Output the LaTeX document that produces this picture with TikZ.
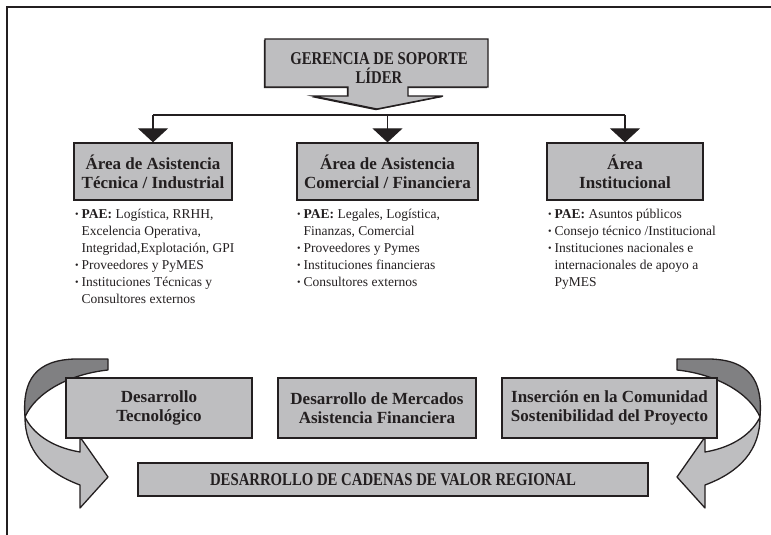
\documentclass[tikz,border=0pt]{standalone}
\usepackage{fontspec}
\setmainfont{Liberation Serif}
\newfontfamily\capsfont[FakeStretch=0.82]{Liberation Serif}
\usepackage{tikz}
\usetikzlibrary{arrows.meta,positioning,calc,shadows}

\definecolor{ink}{RGB}{35,31,32}
\definecolor{boxgray}{RGB}{190,190,192}
\definecolor{backgray}{RGB}{128,128,130}

\newcommand{\pbul}{\makebox[6.5pt][l]{\raisebox{0.8pt}{\fontsize{10}{10}\selectfont\textbullet}}}
\newcommand{\pind}{\hspace*{6.5pt}}

\begin{document}
\begin{tikzpicture}[
  x=1pt, y=-1pt,
  every node/.style={inner sep=0pt, text=ink},
  box/.style={draw=ink, line width=1.3pt, fill=boxgray, align=center,
    drop shadow={shadow xshift=-1.2pt, shadow yshift=-1.2pt, fill=ink, opacity=1}},
  areabox/.style={box, minimum height=57pt, font=\fontsize{17}{19}\selectfont\bfseries},
  ejebox/.style={box, minimum height=60pt, font=\fontsize{17}{19}\selectfont\bfseries},
  capsbox/.style={font=\capsfont\fontsize{18}{19}\selectfont\bfseries, align=center},
  list/.style={align=left, anchor=north west, font=\fontsize{13.5}{17}\selectfont},
  conn/.style={draw=ink, line width=1.2pt},
  down/.style={conn, -{Triangle[width=30pt,length=14pt]}},
  ribbon/.style={draw=ink, line width=1.3pt, line join=round}
]
\useasboundingbox (0,0) rectangle (771,535);

% --- page frame (only top and left visible) ---
\draw[ink, line width=1.2pt] (7,535) -- (7,7) -- (771,7);

% --- top box with its arrow tab ---
\path[box] (265,39) -- (488,39) -- (488,87) -- (408,87) -- (408,96) -- (443,96)
  -- (377,109) -- (313,96) -- (348,96) -- (348,87) -- (265,87) -- cycle;
\node[capsbox] (gerencia) at (379,68) {GERENCIA DE SOPORTE\\LÍDER};
\coordinate (split) at (377,115);

% --- three areas ---
\node[areabox, minimum width=158pt] (tecnica)       at (153,171.5) {Área de Asistencia\\Técnica / Industrial};
\node[areabox, minimum width=181pt] (comercial)     at (387.5,171.5) {Área de Asistencia\\Comercial / Financiera};
\node[areabox, minimum width=156pt] (institucional) at (625,171.5) {Área\\Institucional};

\draw[conn] (tecnica.north |- split) -- (institucional.north |- split);
\foreach \n in {tecnica,comercial,institucional} {
  \draw[down] (\n.north |- split) -- (\n.north);
}

% --- lists under each area ---
\node[list] (listtec) at (75,209) {\pbul\textbf{PAE:} Logística, RRHH,\\
  \pind Excelencia Operativa,\\
  \pind Integridad,Explotación, GPI\\
  \pbul Proveedores y PyMES\\
  \pbul Instituciones Técnicas y\\
  \pind Consultores externos};
\node[list] (listcom) at (297,209) {\pbul\textbf{PAE:} Legales, Logística,\\
  \pind Finanzas, Comercial\\
  \pbul Proveedores y Pymes\\
  \pbul Instituciones financieras\\
  \pbul Consultores externos};
\node[list] (listins) at (548,209) {\pbul\textbf{PAE:} Asuntos públicos\\
  \pbul Consejo técnico /Institucional\\
  \pbul Instituciones nacionales e\\
  \pind internacionales de apoyo a\\
  \pind PyMES};

% --- twisted ribbon arrows (left, then mirrored right) ---
\foreach \sx/\dx in {1/0,-1/785} {
  \begin{scope}[shift={(\dx,0)}, xscale=\sx]
    \path[ribbon, fill=backgray] (25,417) .. controls (22,380) and (36,360) .. (75,359)
      -- (108,359) -- (108,370) .. controls (70,374) and (36,392) .. (25,417) -- cycle;
    \path[ribbon, fill=boxgray] (25,417) .. controls (25,450) and (45,472) .. (80,485)
      -- (80,508) -- (108,477) -- (80,437) -- (80,452)
      .. controls (50,447) and (32,432) .. (25,417) -- cycle;
  \end{scope}
}

% --- bottom row ---
\node[ejebox, minimum width=186pt] (tecno)     at (159,408)   {Desarrollo\\Tecnológico};
\node[ejebox, minimum width=198pt] (mercados)  at (377,408)   {Desarrollo de Mercados\\Asistencia Financiera};
\node[ejebox, minimum width=215pt] (comunidad) at (609.5,408) {Inserción en la Comunidad\\Sostenibilidad del Proyecto};

\node[box, capsbox, minimum width=510pt, minimum height=33pt] (cadenas) at (393,479.5)
  {DESARROLLO DE CADENAS DE VALOR REGIONAL};

\end{tikzpicture}
\end{document}
